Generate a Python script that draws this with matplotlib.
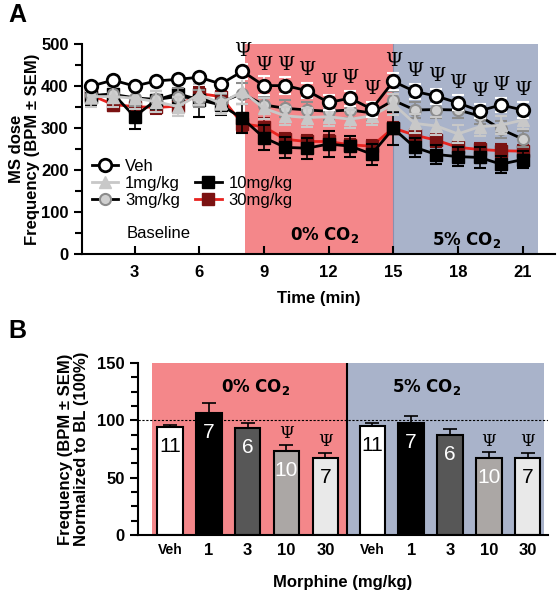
import matplotlib
matplotlib.use("Agg")
import matplotlib.pyplot as plt
from matplotlib.lines import Line2D
import numpy as np

plt.rcParams['font.family'] = ['Liberation Sans', 'DejaVu Sans']

# ---------------- Panel A data ----------------
time = list(range(1, 22))
veh = [400, 414, 400, 412, 416, 421, 405, 435, 401, 401, 389, 361, 371, 345, 411, 387, 376, 360, 341, 355, 343]
veh_sem = [12, 12, 12, 12, 12, 12, 12, 18, 22, 20, 18, 18, 18, 18, 20, 18, 18, 18, 16, 16, 18]
mg1 = [375, 375, 371, 363, 351, 380, 359, 387, 347, 329, 325, 327, 321, 329, 357, 311, 305, 286, 303, 307, 319]
mg1_sem = [25, 25, 25, 25, 22, 25, 25, 30, 25, 22, 22, 22, 22, 22, 25, 22, 22, 22, 22, 22, 22]
mg3 = [378, 380, 372, 368, 375, 370, 362, 382, 355, 347, 343, 340, 343, 336, 366, 343, 344, 343, 329, 297, 274]
mg3_sem = [20, 20, 20, 20, 20, 20, 20, 25, 22, 20, 20, 20, 20, 20, 22, 20, 20, 20, 20, 20, 18]
mg10 = [375, 382, 327, 367, 382, 367, 355, 323, 277, 254, 252, 262, 257, 238, 299, 254, 237, 232, 230, 214, 225]
mg10_sem = [22, 22, 30, 22, 22, 40, 25, 35, 30, 25, 25, 30, 25, 25, 40, 22, 22, 22, 25, 20, 20]
mg30 = [378, 356, 351, 349, 352, 382, 375, 310, 303, 273, 268, 268, 260, 257, 300, 283, 271, 254, 249, 246, 245]
mg30_sem = [15, 15, 15, 15, 15, 15, 15, 20, 20, 15, 15, 15, 15, 15, 15, 15, 15, 15, 15, 15, 15]
psi_times = list(range(8, 22))

# ---------------- Panel B data ----------------
doses = ['Veh', '1', '3', '10', '30']
co2_0 = [94.5, 106, 93, 73.5, 67.4]
co2_0_sem = [1.5, 9, 4.5, 5, 4]
co2_5 = [95.3, 97.4, 87.2, 66.9, 67.4]
co2_5_sem = [2, 6.6, 5, 5, 4]
n_counts = ['11', '7', '6', '10', '7']
sig_b = [False, False, False, True, True]

RED = '#f4878a'
BLUE = '#a9b3ca'

fig = plt.figure(figsize=(5.6, 5.95), dpi=100)

# =============== Panel A ===============
ax = fig.add_axes([0.146, 0.573, 0.845, 0.353])
ax.axvspan(8.1, 15, color=RED, lw=0, zorder=0)
ax.axvspan(15, 21.7, color=BLUE, lw=0, zorder=0)
ax.axvline(15, color='#8a8fae', lw=0.8, zorder=0.5)

series = [
    (mg30, mg30_sem, dict(color='#e8231f', marker='s', mfc='#7b1212', mec='#7b1212', ms=8), '#7b1212', '30mg/kg', 2),
    (mg10, mg10_sem, dict(color='black', marker='s', mfc='black', mec='black', ms=8.5), 'black', '10mg/kg', 3),
    (mg3, mg3_sem, dict(color='black', marker='o', mfc='#d0d0d0', mec='#8c8c8c', ms=8, mew=1.5), '#8c8c8c', '3mg/kg', 4),
    (mg1, mg1_sem, dict(color='#c8c8c8', marker='^', mfc='#c8c8c8', mec='#c8c8c8', ms=8), '#c8c8c8', '1mg/kg', 5),
    (veh, veh_sem, dict(color='black', marker='o', mfc='white', mec='black', ms=9, mew=2), 'white', 'Veh', 6),
]
handles = {}
for vals, sem, st, ecol, lab, z in series:
    ax.errorbar(time, vals, yerr=sem, fmt='none', ecolor=ecol, elinewidth=1.2,
                capsize=4, capthick=1.5, zorder=z)
    h, = ax.plot(time, vals, lw=2, zorder=z + 0.5, **st)
    handles[lab] = h

for t in psi_times:
    i = time.index(t)
    ax.text(t, veh[i] + 48, 'Ψ', ha='center', va='center', fontsize=14,
            family=['DejaVu Serif'], zorder=8)

ax.text(4.1, 50, 'Baseline', ha='center', va='center', fontsize=12)
ax.text(11.8, 45, r'$\mathbf{0\%\ CO_2}$', ha='center', va='center', fontsize=12)
ax.text(18.4, 33, r'$\mathbf{5\%\ CO_2}$', ha='center', va='center', fontsize=12)

blank = Line2D([], [], lw=0, marker=None)
leg_h = [handles['Veh'], handles['1mg/kg'], handles['3mg/kg'], blank, handles['10mg/kg'], handles['30mg/kg']]
leg_l = ['Veh', '1mg/kg', '3mg/kg', '', '10mg/kg', '30mg/kg']
ax.legend(leg_h, leg_l, ncol=2, loc='upper left', bbox_to_anchor=(0.0, 0.50), frameon=False,
          fontsize=12, handlelength=1.6, handletextpad=0.4, labelspacing=0.12, columnspacing=0.9,
          borderaxespad=0.2)

ax.set_xlim(0.55, 22.5)
ax.set_ylim(0, 500)
ax.set_xticks([3, 6, 9, 12, 15, 18, 21])
ax.set_yticks([0, 100, 200, 300, 400, 500])
ax.set_yticks(np.arange(50, 500, 100), minor=True)
ax.tick_params(axis='x', direction='in', length=6, width=1.5, labelsize=12, pad=8)
ax.tick_params(axis='y', direction='out', length=6, width=1.5, labelsize=12)
ax.tick_params(axis='y', which='minor', direction='out', length=5, width=1.5)
for lbl in ax.get_xticklabels() + ax.get_yticklabels():
    lbl.set_fontweight('bold')
ax.spines['top'].set_visible(False)
ax.spines['right'].set_visible(False)
ax.spines['left'].set_linewidth(1.5)
ax.spines['bottom'].set_linewidth(1.5)
ax.set_xlabel('Time (min)', fontsize=12, fontweight='bold', labelpad=8)
ax.set_ylabel('MS dose\nFrequency (BPM ± SEM)', fontsize=12, fontweight='bold', labelpad=1,
              linespacing=1.05)
ax.patch.set_alpha(0)

fig.text(0.015, 0.975, 'A', fontsize=18, fontweight='bold', va='center')
fig.text(0.015, 0.443, 'B', fontsize=18, fontweight='bold', va='center')

# =============== Panel B ===============
bx = fig.add_axes([0.246, 0.101, 0.733, 0.289])
pos1 = np.arange(5)
pos2 = np.arange(5) + 5.21
bx.axvspan(-0.47, 4.56, color=RED, lw=0, zorder=0)
bx.axvspan(4.56, 9.64, color=BLUE, lw=0, zorder=0)
bx.axvline(4.56, color='black', lw=1.5, zorder=1)
bx.axhline(100, color='black', lw=0.8, ls=(0, (2, 1.5)), zorder=1)

fills = ['white', 'black', '#575757', '#aba7a5', '#e9e9e9']
txtcol = ['black', 'white', 'white', 'white', 'black']
for pos, vals, sems in [(pos1, co2_0, co2_0_sem), (pos2, co2_5, co2_5_sem)]:
    bx.bar(pos, vals, width=0.66, color=fills, edgecolor='black', lw=1.5, zorder=2)
    bx.errorbar(pos, vals, yerr=[[0] * 5, sems], fmt='none', ecolor='black',
                elinewidth=1.2, capsize=5, capthick=1.2, zorder=1.5)
    for p, v, s, n, tc, sg in zip(pos, vals, sems, n_counts, txtcol, sig_b):
        bx.text(p, v - 17, n, ha='center', va='center', fontsize=15, color=tc, zorder=3)
        if sg:
            bx.text(p, v + s + 10, 'Ψ', ha='center', va='center', fontsize=12,
                    family=['DejaVu Serif'], zorder=3)

bx.text(2.2, 129, r'$\mathbf{0\%\ CO_2}$', ha='center', va='center', fontsize=12)
bx.text(6.6, 129, r'$\mathbf{5\%\ CO_2}$', ha='center', va='center', fontsize=12)

bx.set_xlim(-0.83, 9.74)
bx.set_ylim(0, 150)
bx.set_yticks([0, 50, 100, 150])
bx.set_yticks(np.arange(0, 150.1, 12.5), minor=True)
bx.set_xticks(np.concatenate([pos1, pos2]))
bx.set_xticklabels(doses + doses)
for lbl in bx.get_xticklabels():
    lbl.set_fontweight('bold')
    lbl.set_fontsize(10 if lbl.get_text() == 'Veh' else 12)
bx.tick_params(axis='x', length=0, pad=6)
bx.tick_params(axis='y', direction='out', length=6, width=1.5, labelsize=12)
bx.tick_params(axis='y', which='minor', direction='out', length=5, width=1.5)
for lbl in bx.get_yticklabels():
    lbl.set_fontweight('bold')
bx.spines['top'].set_visible(False)
bx.spines['right'].set_visible(False)
bx.spines['left'].set_linewidth(1.5)
bx.spines['bottom'].set_linewidth(1.5)
bx.set_xlabel('Morphine (mg/kg)', fontsize=12, fontweight='bold', labelpad=12)
bx.set_ylabel('Frequency (BPM ± SEM)\nNormalized to BL (100%)', fontsize=12,
              fontweight='bold', labelpad=6, linespacing=1.05)
bx.patch.set_alpha(0)

fig.savefig('out.png', dpi=100)
